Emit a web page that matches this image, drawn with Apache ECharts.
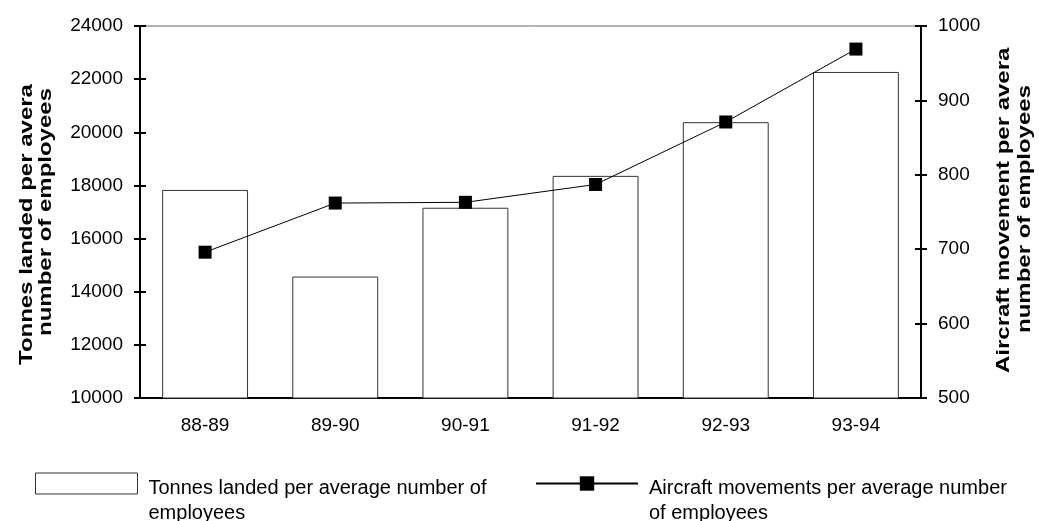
<!DOCTYPE html>
<html>
<head>
<meta charset="utf-8">
<script src="https://cdn.jsdelivr.net/npm/echarts@6/dist/echarts.min.js"></script>
<style>html,body{margin:0;padding:0;background:#fff;}#c{width:1039px;height:521px;}</style>
</head>
<body>
<div id="c"></div>
<script>
var categories = ['88-89', '89-90', '90-91', '91-92', '92-93', '93-94'];
var tonnesLanded = [17830, 14570, 17160, 18360, 20380, 22270];
var aircraftMovements = [696, 762, 763, 787, 871, 969];
var leftTicks = { min: 10000, max: 24000, interval: 2000 };
var rightTicks = { min: 500, max: 1000, interval: 100 };
var seriesNames = ['Tonnes landed per average number of employees', 'Aircraft movements per average number of employees'];
var legendLines = [['Tonnes landed per average number of', 'employees'], ['Aircraft movements per average number', 'of employees']];
var leftTitle = ['Tonnes landed per average', 'number of employees'];
var rightTitle = ['Aircraft movement per average', 'number of employees'];

var FONT = '"Liberation Sans", Arial, sans-serif';
var chart = echarts.init(document.getElementById('c'), null, { renderer: 'canvas' });

function yAxisBase(t, pos, inside, showLabel) {
  return {
    type: 'value', position: pos, min: t.min, max: t.max, interval: t.interval,
    splitLine: { show: false },
    axisLine: { show: true, lineStyle: { color: '#000', width: 2 } },
    axisTick: { show: true, inside: inside, length: 6, lineStyle: { color: '#000', width: 2 } },
    axisLabel: { show: showLabel, color: '#000', fontFamily: FONT, fontSize: 19, margin: 17,
      formatter: function (v) { return String(v); } }
  };
}

function legendItem(idx, left) {
  return {
    data: [seriesNames[idx]], left: left, top: 441.5, padding: 0, orient: 'horizontal',
    itemWidth: 102, itemHeight: idx === 0 ? 21 : 18, selectedMode: false,
    icon: idx === 0 ? 'rect' : undefined,
    itemStyle: idx === 0 ? { color: '#fff', borderColor: '#333', borderWidth: 1 } : undefined,
    formatter: function () { return '{s| }\n{t|' + legendLines[idx][0] + '}\n{t|' + legendLines[idx][1] + '}'; },
    textStyle: {
      color: '#000', fontFamily: FONT, fontSize: 20, padding: [0, 0, 0, 6],
      rich: {
        s: { fontSize: 10, lineHeight: 34, height: 34 },
        t: { color: '#000', fontFamily: FONT, fontSize: 20, lineHeight: 25 }
      }
    }
  };
}

var titleFont = 'bold 18px ' + FONT;
var option = {
  animation: false,
  backgroundColor: '#fff',
  grid: { left: 140, right: 118, top: 26, bottom: 123, show: true, borderColor: '#666', borderWidth: 1, backgroundColor: 'transparent' },
  xAxis: {
    type: 'category', data: categories,
    axisLine: { show: true, lineStyle: { color: '#000', width: 2 } },
    axisTick: { show: false },
    axisLabel: { color: '#000', fontFamily: FONT, fontSize: 19, margin: 18 }
  },
  yAxis: [
    yAxisBase(leftTicks, 'left', false, true),
    yAxisBase(rightTicks, 'right', false, true),
    yAxisBase(leftTicks, 'left', true, false),
    yAxisBase(rightTicks, 'right', true, false)
  ],
  legend: [legendItem(0, 35), legendItem(1, 535)],
  graphic: [
    { type: 'text', x: 27, y: 365, rotation: Math.PI / 2, scaleX: 1.333,
      style: { text: leftTitle[0], font: titleFont, fill: '#000', align: 'left', verticalAlign: 'middle', width: 219, overflow: 'truncate', ellipsis: '' } },
    { type: 'text', x: 46, y: 212, rotation: Math.PI / 2, scaleX: 1.333,
      style: { text: leftTitle[1], font: titleFont, fill: '#000', align: 'center', verticalAlign: 'middle' } },
    { type: 'text', x: 1004, y: 373, rotation: Math.PI / 2, scaleX: 1.333,
      style: { text: rightTitle[0], font: titleFont, fill: '#000', align: 'left', verticalAlign: 'middle', width: 250, overflow: 'truncate', ellipsis: '' } },
    { type: 'text', x: 1025, y: 209, rotation: Math.PI / 2, scaleX: 1.333,
      style: { text: rightTitle[1], font: titleFont, fill: '#000', align: 'center', verticalAlign: 'middle' } }
  ],
  series: [
    {
      name: seriesNames[0], type: 'bar', yAxisIndex: 0, data: tonnesLanded, barWidth: '66%',
      itemStyle: { color: '#fff', borderColor: '#333', borderWidth: 1 }
    },
    {
      name: seriesNames[1], type: 'line', yAxisIndex: 1, data: aircraftMovements,
      symbol: 'rect', symbolSize: 13,
      lineStyle: { color: '#000', width: 1 }, itemStyle: { color: '#000' }
    }
  ]
};
chart.setOption(option);
</script>
</body>
</html>
